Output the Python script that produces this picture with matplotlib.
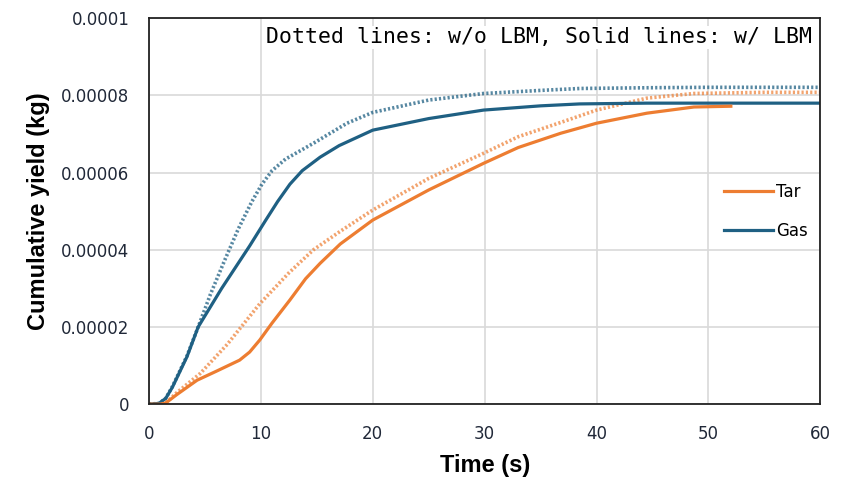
import matplotlib.pyplot as plt
from matplotlib.lines import Line2D

plt.rcParams["font.family"] = ["DejaVu Sans"]

# ====================== DADOS ======================
# time (s) / cumulative yield (x 1e-6 kg)
gas_lbm_t = [0, 0.9, 1.5, 2.1, 3.4, 4.4, 6.5, 9.0, 10.4, 11.5, 12.6, 13.7, 15.3, 17, 20, 25, 29.9, 35, 38.5, 44.5, 50, 60]
gas_lbm_v = [0, 0.2, 1.5, 4.4, 12.3, 20, 30, 41, 47.5, 52.5, 57, 60.5, 64, 67, 71, 74, 76.2, 77.3, 77.8, 78, 78, 78]

gas_nolbm_t = [0, 0.9, 1.5, 2.1, 3.4, 4.4, 5.5, 6.8, 8.0, 9.2, 10.1, 11.0, 12.2, 14.7, 17.7, 20, 25, 29.9, 35, 38.5, 45, 50, 60]
gas_nolbm_v = [0, 0.2, 1.5, 4.6, 12.5, 20, 28.5, 37.5, 45.5, 52.5, 57, 60.5, 63.5, 67.6, 72.8, 75.6, 78.8, 80.5, 81.3, 81.8, 82, 82.1, 82.1]

tar_lbm_t = [0, 1, 1.5, 2.5, 4.3, 6, 8.1, 9.0, 9.9, 11, 12.6, 14, 15.3, 17.1, 20, 25, 29.9, 33, 36.8, 40, 44.5, 48.7, 52]
tar_lbm_v = [0, 0, 0.3, 2.5, 6.2, 8.5, 11.4, 13.5, 16.6, 21, 27, 32.5, 36.5, 41.5, 47.7, 55.5, 62.4, 66.5, 70.2, 72.8, 75.4, 77, 77.2]

tar_nolbm_t = [0, 1, 1.5, 2.5, 4.6, 7, 9.9, 12.5, 14.7, 17.1, 20, 25, 29.9, 33, 36.8, 40, 44.5, 48.7, 55, 60]
tar_nolbm_v = [0, 0, 0.3, 3, 8, 15.5, 26, 34, 40, 44.8, 50.3, 58.5, 65, 69.3, 73, 76.2, 79.3, 80.5, 80.8, 80.8]

yticks = [0, 0.00002, 0.00004, 0.00006, 0.00008, 0.0001]
ytick_labels = ["0", "0.00002", "0.00004", "0.00006", "0.00008", "0.0001"]
xticks = [0, 10, 20, 30, 40, 50, 60]

TAR_COLOR = "#ED7D31"
GAS_COLOR = "#1F6083"

def scale(v):
    return [x * 1e-6 for x in v]

# ====================== PLOT ======================
fig = plt.figure(figsize=(8.51, 4.8), dpi=100)
ax = fig.add_axes([0.175, 0.158, 0.789, 0.804])

ax.plot(gas_nolbm_t, scale(gas_nolbm_v), color=GAS_COLOR, lw=2.6, ls=(0, (0.6, 0.6)), alpha=0.75)
ax.plot(tar_nolbm_t, scale(tar_nolbm_v), color=TAR_COLOR, lw=2.6, ls=(0, (0.6, 0.6)), alpha=0.7)
ax.plot(gas_lbm_t, scale(gas_lbm_v), color=GAS_COLOR, lw=2.3)
ax.plot(tar_lbm_t, scale(tar_lbm_v), color=TAR_COLOR, lw=2.3)

ax.set_xlim(0, 60)
ax.set_ylim(0, 0.0001)
ax.set_xticks(xticks)
ax.set_yticks(yticks)
ax.set_yticklabels(ytick_labels)
ax.tick_params(axis="y", length=0, pad=14, labelsize=12, labelcolor="#202838")
ax.tick_params(axis="x", length=0, pad=15, labelsize=12, labelcolor="#202838")
ax.grid(True, color="#d9d9d9", lw=1.2)
ax.set_axisbelow(True)
for sp in ax.spines.values():
    sp.set_color("#222222")
    sp.set_linewidth(1.3)

ax.set_xlabel("Time (s)", fontsize=17, fontweight="bold", family="Liberation Sans")
ax.xaxis.set_label_coords(0.5, -0.13)
ax.set_ylabel("Cumulative yield (kg)", fontsize=17, fontweight="bold", family="Liberation Sans")
ax.yaxis.set_label_coords(-0.147, 0.5)

ax.text(0.988, 0.935, "Dotted lines: w/o LBM, Solid lines: w/ LBM", transform=ax.transAxes,
        ha="right", va="baseline", fontsize=15.5, family="DejaVu Sans Mono",
        bbox=dict(facecolor="white", edgecolor="none", pad=1))

handles = [Line2D([0], [0], color=TAR_COLOR, lw=2.3), Line2D([0], [0], color=GAS_COLOR, lw=2.3)]
ax.legend(handles, ["Tar", "Gas"], loc="center left", bbox_to_anchor=(0.857, 0.499),
          frameon=False, fontsize=12, handlelength=2.9, handletextpad=0.2, labelspacing=1.25,
          borderpad=0, borderaxespad=0)

fig.savefig("out.png", dpi=100)
